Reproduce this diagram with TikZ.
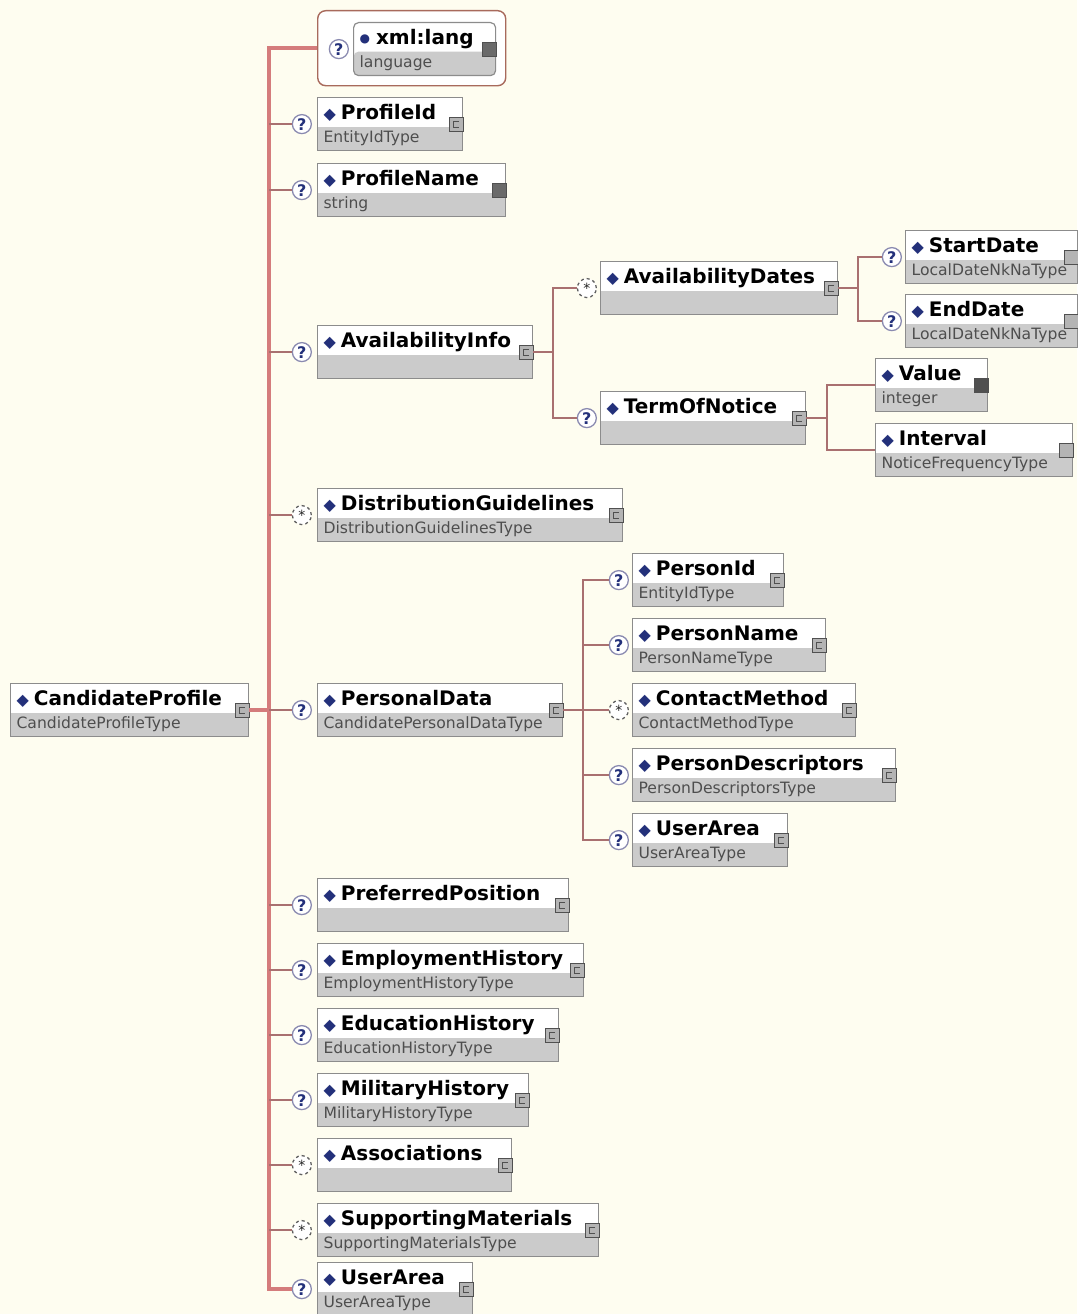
\documentclass[tikz,border=0pt]{standalone}
\usepackage{fontspec}
\setmainfont{DejaVu Sans}
\usepackage{xcolor}
\usetikzlibrary{positioning,calc}
\definecolor{bgcream}{HTML}{FEFDF0}
\definecolor{elborder}{HTML}{8C8C8C}
\definecolor{bandgray}{HTML}{CBCBCB}
\definecolor{trunkred}{HTML}{D47C7C}
\definecolor{branchbrown}{HTML}{A97070}
\definecolor{elnavy}{HTML}{23307A}
\definecolor{qring}{HTML}{8A8AB0}
\definecolor{typegray}{HTML}{4E4E4E}
\definecolor{attrbrown}{HTML}{A86A5C}
\definecolor{iconfill}{HTML}{B4B4B4}
\definecolor{icongray}{HTML}{505050}
\definecolor{icondark}{HTML}{6A6A6A}
\newcommand\nm[1]{{\fontsize{20}{23}\selectfont\bfseries\rule{0pt}{22pt}%
  \raisebox{0.5pt}{\textcolor{elnavy}{\fontsize{16}{16}\selectfont ◆}}\kern5pt #1}}
\newcommand\an[1]{{\fontsize{20}{23}\selectfont\bfseries\rule{0pt}{22pt}%
  \raisebox{2pt}{\textcolor{elnavy}{\fontsize{12}{12}\selectfont ●}}\kern6pt #1}}
\newcommand\ty[1]{{\color{typegray}\rule[-8pt]{0pt}{8pt}#1}}

\begin{document}
\begin{tikzpicture}[
  x=1pt, y=-1pt,
  el/.style={draw=elborder, line width=1.2pt, fill=white, anchor=north west,
             minimum height=53pt, inner xsep=6pt, inner ysep=0pt, align=left,
             text width=#1, font=\fontsize{15.6}{23}\selectfont,
             path picture={\fill[bandgray]
               ([yshift=24pt]path picture bounding box.south west)
               rectangle (path picture bounding box.south east);}},
  attr/.style={el=#1, rounded corners=5pt},
  grp/.style={draw=attrbrown, line width=1.4pt, fill=white, rounded corners=8pt,
              anchor=north west, minimum width=188pt, minimum height=75pt},
  opt/.style={circle, draw=qring, line width=1.3pt, fill=white, minimum size=19pt,
              inner sep=0pt, text=elnavy, font=\fontsize{16}{16}\selectfont\bfseries},
  rep/.style={opt, dashed, draw=gray!75!black, text=gray!30!black,
              font=\fontsize{14}{14}\selectfont},
  cx/.style={draw=icongray, line width=0.8pt, fill=iconfill, minimum size=14pt,
             inner sep=0pt,
             path picture={\draw[icongray, line width=0.9pt]
               ([shift={(3pt,3pt)}]path picture bounding box.center) --
               ([shift={(-2.5pt,3pt)}]path picture bounding box.center) --
               ([shift={(-2.5pt,-3pt)}]path picture bounding box.center) --
               ([shift={(3pt,-3pt)}]path picture bounding box.center);}},
  sx/.style={draw=icongray, line width=0.8pt, fill=icondark, minimum size=14pt,
             inner sep=0pt},
  trunk/.style={draw=trunkred, line width=4pt},
  br/.style={draw=branchbrown, line width=1.6pt},
]
\fill[bgcream] (0,0) rectangle (1077,1314);
\useasboundingbox (0,0) rectangle (1077,1314);
% Root element
\node[el=226pt] (root) at (10,683) {\nm{CandidateProfile}\\\ty{CandidateProfileType}};
\node[cx] at ([xshift=-7pt]root.east) {};
% Attributes
\node[grp] (attrs) at (317,10) {};
\node[attr=130pt] (xl) at (353,22) {\an{xml:lang}\\\ty{language}};
\node[sx] at ([xshift=-7pt]xl.east) {};
\node[opt, left=4pt of xl] (xlq) {?};
% Children of CandidateProfile
\node[el=133pt] (pid) at (317,97) {\nm{ProfileId}\\\ty{EntityIdType}};
\node[cx] at ([xshift=-7pt]pid.east) {};
\node[opt, left=5pt of pid] (pidq) {?};
\node[el=176pt] (pnm) at (317,163) {\nm{ProfileName}\\\ty{string}};
\node[sx] at ([xshift=-7pt]pnm.east) {};
\node[opt, left=5pt of pnm] (pnmq) {?};
\node[el=203pt] (ai) at (317,325) {\nm{AvailabilityInfo}\\\ty{}};
\node[cx] at ([xshift=-7pt]ai.east) {};
\node[opt, left=5pt of ai] (aiq) {?};
\node[el=293pt] (dg) at (317,488) {\nm{DistributionGuidelines}\\\ty{DistributionGuidelinesType}};
\node[cx] at ([xshift=-7pt]dg.east) {};
\node[rep, left=5pt of dg] (dgq) {*};
\node[el=233pt] (pd) at (317,683) {\nm{PersonalData}\\\ty{CandidatePersonalDataType}};
\node[cx] at ([xshift=-7pt]pd.east) {};
\node[opt, left=5pt of pd] (pdq) {?};
\node[el=239pt] (pp) at (317,878) {\nm{PreferredPosition}\\\ty{}};
\node[cx] at ([xshift=-7pt]pp.east) {};
\node[opt, left=5pt of pp] (ppq) {?};
\node[el=254pt] (eh) at (317,943) {\nm{EmploymentHistory}\\\ty{EmploymentHistoryType}};
\node[cx] at ([xshift=-7pt]eh.east) {};
\node[opt, left=5pt of eh] (ehq) {?};
\node[el=229pt] (edh) at (317,1008) {\nm{EducationHistory}\\\ty{EducationHistoryType}};
\node[cx] at ([xshift=-7pt]edh.east) {};
\node[opt, left=5pt of edh] (edhq) {?};
\node[el=199pt] (mh) at (317,1073) {\nm{MilitaryHistory}\\\ty{MilitaryHistoryType}};
\node[cx] at ([xshift=-7pt]mh.east) {};
\node[opt, left=5pt of mh] (mhq) {?};
\node[el=182pt] (asc) at (317,1138) {\nm{Associations}\\\ty{}};
\node[cx] at ([xshift=-7pt]asc.east) {};
\node[rep, left=5pt of asc] (ascq) {*};
\node[el=269pt] (sm) at (317,1203) {\nm{SupportingMaterials}\\\ty{SupportingMaterialsType}};
\node[cx] at ([xshift=-7pt]sm.east) {};
\node[rep, left=5pt of sm] (smq) {*};
\node[el=143pt] (ua) at (317,1262) {\nm{UserArea}\\\ty{UserAreaType}};
\node[cx] at ([xshift=-7pt]ua.east) {};
\node[opt, left=5pt of ua] (uaq) {?};
% AvailabilityInfo subtree
\node[el=225pt] (ad) at (600,261) {\nm{AvailabilityDates}\\\ty{}};
\node[cx] at ([xshift=-7pt]ad.east) {};
\node[rep, left=3pt of ad] (adq) {*};
\node[el=160pt] (sd) at (905,230) {\nm{StartDate}\\\ty{LocalDateNkNaType}};
\node[sx, fill=iconfill] at ([xshift=-7pt]sd.east) {};
\node[opt, left=3pt of sd] (sdq) {?};
\node[el=160pt] (ed) at (905,294) {\nm{EndDate}\\\ty{LocalDateNkNaType}};
\node[sx, fill=iconfill] at ([xshift=-7pt]ed.east) {};
\node[opt, left=3pt of ed] (edq) {?};
\node[el=193pt] (ton) at (600,391) {\nm{TermOfNotice}\\\ty{}};
\node[cx] at ([xshift=-7pt]ton.east) {};
\node[opt, left=3pt of ton] (tonq) {?};
\node[el=100pt] (val) at (875,358) {\nm{Value}\\\ty{integer}};
\node[sx, fill=icongray] at ([xshift=-7pt]val.east) {};
\node[el=185pt] (itv) at (875,423) {\nm{Interval}\\\ty{NoticeFrequencyType}};
\node[sx, fill=iconfill] at ([xshift=-7pt]itv.east) {};
% PersonalData subtree
\node[el=139pt] (psid) at (632,553) {\nm{PersonId}\\\ty{EntityIdType}};
\node[cx] at ([xshift=-7pt]psid.east) {};
\node[opt, left=3pt of psid] (psidq) {?};
\node[el=181pt] (psnm) at (632,618) {\nm{PersonName}\\\ty{PersonNameType}};
\node[cx] at ([xshift=-7pt]psnm.east) {};
\node[opt, left=3pt of psnm] (psnmq) {?};
\node[el=211pt] (cm) at (632,683) {\nm{ContactMethod}\\\ty{ContactMethodType}};
\node[cx] at ([xshift=-7pt]cm.east) {};
\node[rep, left=3pt of cm] (cmq) {*};
\node[el=251pt] (pdes) at (632,748) {\nm{PersonDescriptors}\\\ty{PersonDescriptorsType}};
\node[cx] at ([xshift=-7pt]pdes.east) {};
\node[opt, left=3pt of pdes] (pdesq) {?};
\node[el=143pt] (pua) at (632,813) {\nm{UserArea}\\\ty{UserAreaType}};
\node[cx] at ([xshift=-7pt]pua.east) {};
\node[opt, left=3pt of pua] (puaq) {?};
% Trunk and branches
\coordinate (tk) at ([xshift=20pt]root.east);
\draw[trunk] (attrs.west) -| (tk) |- (uaq.west);
\draw[trunk] (root.east) -- (tk);
\foreach \q in {pidq,pnmq,aiq,dgq,pdq,ppq,ehq,edhq,mhq,ascq,smq}
  \draw[br] (tk |- \q) -- (\q);
\coordinate (aij) at ([xshift=20pt]ai.east);
\draw[br] (ai.east) -- (aij);
\draw[br] (adq.west) -| (aij) |- (tonq.west);
\coordinate (adj) at ([xshift=20pt]ad.east);
\draw[br] (ad.east) -- (adj);
\draw[br] (sdq.west) -| (adj) |- (edq.west);
\coordinate (tonj) at ([xshift=21pt]ton.east);
\draw[br] (ton.east) -- (tonj);
\draw[br] (val.west) -| (tonj) |- (itv.west);
\coordinate (pdj) at ([xshift=20pt]pd.east);
\draw[br] (pd.east) -- (pdj);
\draw[br] (psidq.west) -| (pdj) |- (puaq.west);
\foreach \q in {psnmq,cmq,pdesq}
  \draw[br] (pdj |- \q) -- (\q);
\end{tikzpicture}
\end{document}
